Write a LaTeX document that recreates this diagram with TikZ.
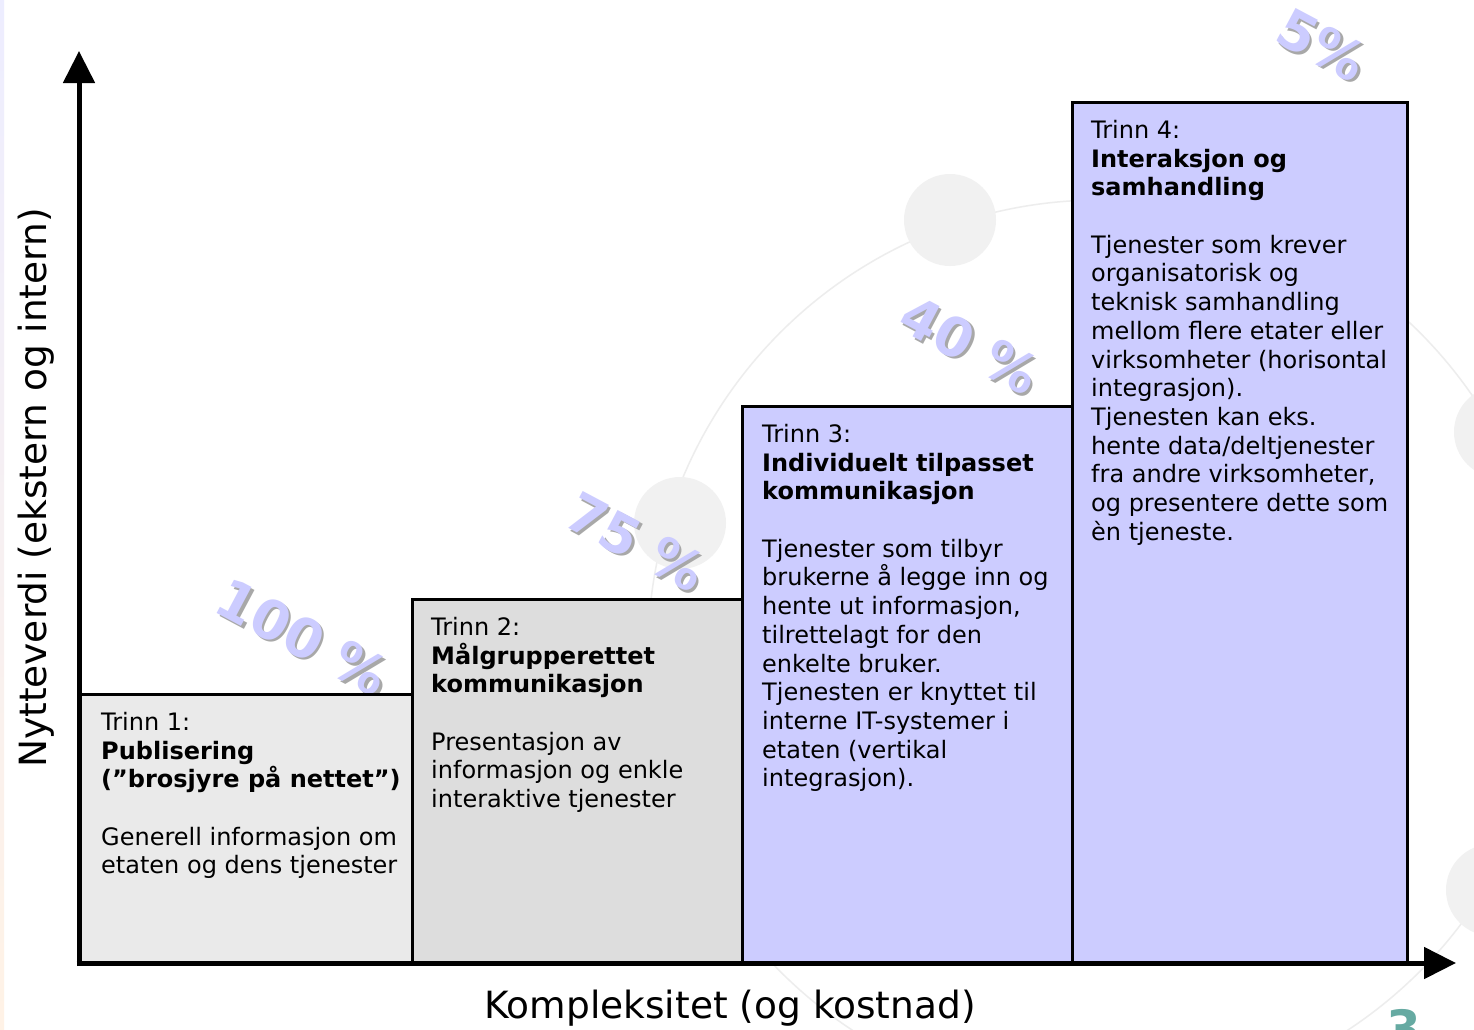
\documentclass[tikz,border=0pt]{standalone}
\usepackage{fontspec}
\setmainfont{DejaVu Sans}
\usetikzlibrary{arrows.meta}
\definecolor{lav}{HTML}{CCCCFF}
\definecolor{gA}{HTML}{EAEAEA}
\definecolor{gB}{HTML}{DDDDDD}
\definecolor{ringc}{HTML}{EDEDED}
\definecolor{dotc}{HTML}{F1F1F1}
\definecolor{tealc}{HTML}{66AAA2}
\definecolor{shad}{HTML}{A8A8A8}
\begin{document}
\begin{tikzpicture}[x=1pt,y=-1pt,
  box/.style={draw=black,line width=2.5pt,rectangle,inner sep=0pt,anchor=north west},
  txt/.style={anchor=north west,align=left,inner sep=0pt,font=\fontsize{24}{28.7}\selectfont},
  pctfont/.style={font=\fontsize{54}{56}\selectfont\bfseries,rotate=-28,inner sep=0pt},
  pct/.style={pctfont,text=lav},
  pctsh/.style={pctfont,text=shad},
  axis/.style={line width=5pt,-{Triangle[width=31pt,length=32pt]}},
  axlabel/.style={font=\fontsize{37.5}{40}\selectfont,inner sep=0pt},
  dot/.style={circle,fill=dotc,minimum size=92pt,inner sep=0pt}
]
\useasboundingbox (0,0) rectangle (1474,1029);
\clip (0,0) rectangle (1474,1029);
\fill[white] (0,0) rectangle (1474,1029);
\shade[top color=blue!7, bottom color=orange!10] (0,0) rectangle (4,1029);

% decorative background ring
\coordinate (rc) at (1100,652);
\draw[ringc,line width=1.5pt] (rc) circle (452pt);
\node[dot] (d1) at (950,220) {};
\node[dot] (d2) at (680,523) {};
\node[dot] (d3) at (1500,432) {};
\node[dot] (d4) at (1492,890) {};

% percentages (shadow + text)
\node[pctsh] (p1s) at (305.5,639.5) {100 \%};
\node[pct] (p1) at (303,637) {100 \%};
\node[pctsh] (p2s) at (638.5,544.5) {75 \%};
\node[pct] (p2) at (636,542) {75 \%};
\node[pctsh] (p3s) at (972.5,347.5) {40 \%};
\node[pct] (p3) at (970,345) {40 \%};
\node[pctsh] (p4s) at (1324.5,47.5) {5\%};
\node[pct] (p4) at (1322,45) {5\%};

% boxes
\node[box,fill=gA,minimum width=332pt,minimum height=270pt] (b1) at (79,693) {};
\node[box,fill=gB,minimum width=330pt,minimum height=365pt] (b2) at (411,598) {};
\node[box,fill=lav,minimum width=330pt,minimum height=558pt] (b3) at (741,405) {};
\node[box,fill=lav,minimum width=335pt,minimum height=862pt] (b4) at (1071,101) {};

\node[txt] (t1) at ([xshift=22pt,yshift=-19pt]b1.north west)
 {Trinn 1:\\ \textbf{Publisering}\\ \textbf{(”brosjyre på nettet”)}\\[28.7pt]
  Generell informasjon om\\ etaten og dens tjenester};
\node[txt] (t2) at ([xshift=20pt,yshift=-19pt]b2.north west)
 {Trinn 2:\\ \textbf{Målgrupperettet}\\ \textbf{kommunikasjon}\\[28.7pt]
  Presentasjon av\\ informasjon og enkle\\ interaktive tjenester};
\node[txt] (t3) at ([xshift=21pt,yshift=-19pt]b3.north west)
 {Trinn 3:\\ \textbf{Individuelt tilpasset}\\ \textbf{kommunikasjon}\\[28.7pt]
  Tjenester som tilbyr\\ brukerne å legge inn og\\ hente ut informasjon,\\
  tilrettelagt for den\\ enkelte bruker.\\ Tjenesten er knyttet til\\
  interne IT-systemer i\\ etaten (vertikal\\ integrasjon).};
\node[txt] (t4) at ([xshift=20pt,yshift=-19pt]b4.north west)
 {Trinn 4:\\ \textbf{Interaksjon og}\\ \textbf{samhandling}\\[28.7pt]
  Tjenester som krever\\ organisatorisk og\\ teknisk samhandling\\
  mellom flere etater eller\\ virksomheter (horisontal\\ integrasjon).\\
  Tjenesten kan eks.\\ hente data/deltjenester\\ fra andre virksomheter,\\
  og presentere dette som\\ èn tjeneste.};

% axes
\coordinate (o) at (79,966);
\coordinate (ytip) at (79,51);
\coordinate (o2) at (76.5,963);
\coordinate (xtip) at (1456,963);
\draw[axis] (o) -- (ytip);
\draw[axis] (o2) -- (xtip);

\node[axlabel,rotate=90] (ylab) at (36,488) {Nytteverdi (ekstern og intern)};
\node[axlabel] (xlab) at (730,1008) {Kompleksitet (og kostnad)};

\node[font=\fontsize{50}{52}\selectfont\bfseries,text=tealc,anchor=base,inner sep=0pt] (num) at (1404,1046) {3};
\end{tikzpicture}
\end{document}
